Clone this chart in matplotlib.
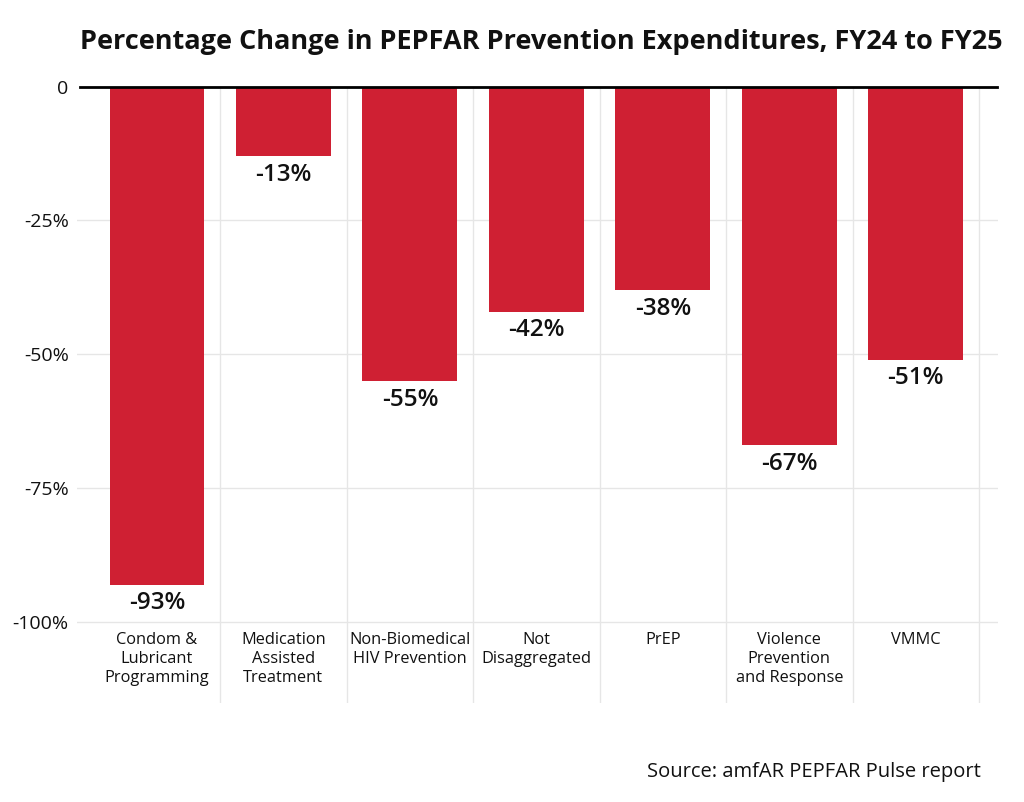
import matplotlib
matplotlib.use('Agg')
import matplotlib.pyplot as plt
import numpy as np

plt.rcParams['font.family'] = ['Open Sans', 'DejaVu Sans']

# data
categories = ['Condom &\nLubricant\nProgramming', 'Medication\nAssisted\nTreatment',
              'Non-Biomedical\nHIV Prevention', 'Not\nDisaggregated', 'PrEP',
              'Violence\nPrevention\nand Response', 'VMMC']
pct_change = [-93, -13, -55, -42, -38, -67, -51]
y_ticks = [0, -25, -50, -75, -100]
y_tick_labels = ['0', '-25%', '-50%', '-75%', '-100%']

bar_color = '#cf2033'
grid_color = '#e6e6e6'

fig = plt.figure(figsize=(10.24, 8.02), dpi=100)
ax = fig.add_axes([77 / 1024, 1 - 703 / 802, (998 - 77) / 1024, (703 - 86.5) / 802])

x = np.arange(len(categories))
ax.bar(x, pct_change, width=0.75, color=bar_color, zorder=2)

# value labels under each bar
for xi, v in zip(x, pct_change):
    ax.text(xi, v - 1.2, f'{v}%', ha='center', va='top', fontsize=17.5,
            fontweight='semibold', color='#111111', zorder=3)

# category labels drawn inside the panel, below -100%
for xi, lab in zip(x, categories):
    ax.text(xi, -101.9, lab, ha='center', va='top', fontsize=11.8,
            color='#111111', linespacing=1.22, zorder=3)

# grid: horizontal at ticks, vertical separators between categories
for t in y_ticks[1:]:
    ax.axhline(t, color=grid_color, lw=1, zorder=1)
for xi in x:
    ax.axvline(xi + 0.5, color=grid_color, lw=1, zorder=1)
ax.axhline(0, xmin=3 / 921, xmax=920 / 921, color='black', lw=2, zorder=4, clip_on=False)

ax.set_xlim(-0.632, 6.65)
ax.set_ylim(-115.06, 0)
ax.set_xticks([])
ax.set_yticks(y_ticks)
ax.set_yticklabels(y_tick_labels, fontsize=14, color='#111111')
ax.tick_params(axis='y', length=0, pad=6)
for s in ax.spines.values():
    s.set_visible(False)

fig.text(80 / 1024, 1 - 42 / 802, 'Percentage Change in PEPFAR Prevention Expenditures, FY24 to FY25',
         ha='left', va='center', fontsize=19.5, fontweight='bold', color='#111111')
fig.text(981 / 1024, 1 - 772 / 802, 'Source: amfAR PEPFAR Pulse report',
         ha='right', va='center', fontsize=14.5, color='#111111')

fig.savefig('out.png', dpi=100, facecolor='white')
